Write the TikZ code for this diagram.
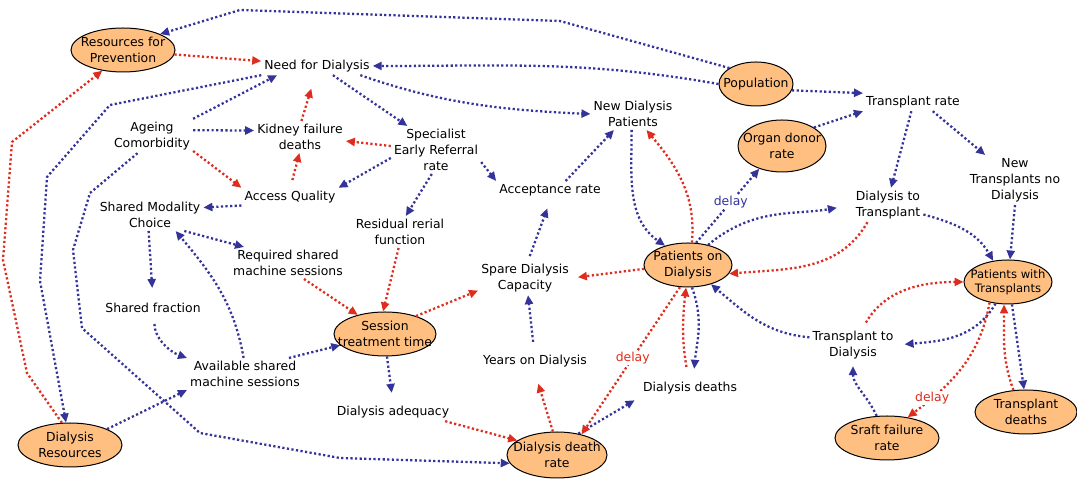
\documentclass[tikz,border=0pt]{standalone}
\usepackage{fontspec}
\setmainfont{DejaVu Sans}
\usepackage{tikz}
\usetikzlibrary{arrows.meta, shapes.geometric}

\definecolor{linkblue}{RGB}{51,51,153}
\definecolor{linkred}{RGB}{222,45,30}
\definecolor{stockfill}{RGB}{255,191,128}

\begin{document}
\begin{tikzpicture}[
    x=1pt, y=1pt,
    font=\fontsize{12.4}{16}\selectfont,
    stock/.style={ellipse, draw=black, line width=1pt, fill=stockfill, inner xsep=-20pt, inner ysep=-6pt, align=center, minimum width=100pt, minimum height=44pt},
    var/.style={align=center, inner sep=3pt, text=black},
    bluelink/.style={-{Triangle[length=9pt, width=8pt]}, draw=linkblue, line width=2.3pt, dash pattern=on 2.2pt off 2.4pt},
    redlink/.style={-{Triangle[length=9pt, width=8pt]}, draw=linkred, line width=2.3pt, dash pattern=on 2.2pt off 2.4pt},
    delaylbl/.style={fill=white, inner sep=1pt},
  ]
  \useasboundingbox (0,0) rectangle (1077,481);

  % Stocks
  \node[stock, minimum width=104pt] (prev) at (123,431) {Resources for\\Prevention};
  \node[stock, minimum width=74pt] (pop) at (756,397) {Population};
  \node[stock, minimum width=88pt, minimum height=52pt] (donor) at (782,335) {Organ donor\\rate};
  \node[stock, minimum width=88pt] (pod) at (688,216) {Patients on\\Dialysis};
  \node[stock, minimum width=88pt, font=\fontsize{11.6}{14}\selectfont] (pwt) at (1008,199) {Patients with\\Transplants};
  \node[stock, minimum width=102pt] (session) at (385,147) {Session\\treatment time};
  \node[stock, minimum width=102pt] (tdeaths) at (1026,69) {Transplant\\deaths};
  \node[stock, minimum width=104pt] (dres) at (70,36) {Dialysis\\Resources};
  \node[stock, minimum width=104pt] (graft) at (887,43) {Sraft failure\\rate};
  \node[stock, minimum width=100pt, minimum height=46pt] (ddrate) at (557,26) {Dialysis death\\rate};

  % Variables
  \node[var] (need) at (317,415) {Need for Dialysis};
  \node[var] (trate) at (913,379) {Transplant rate};
  \node[var] (newdp) at (633,367) {New Dialysis\\Patients};
  \node[var] (ageing) at (152,345) {Ageing\\Comorbidity};
  \node[var] (kfd) at (300,344) {Kidney failure\\deaths};
  \node[var] (spec) at (436,331) {Specialist\\Early Referral\\rate};
  \node[var] (newtx) at (1015,301) {New\\Transplants no\\Dialysis};
  \node[var] (d2t) at (888,276) {Dialysis to\\Transplant};
  \node[var] (accept) at (550,291) {Acceptance rate};
  \node[var] (access) at (290,284) {Access Quality};
  \node[var] (modality) at (150,266) {Shared Modality\\Choice};
  \node[var] (residual) at (400,249) {Residual rerial\\function};
  \node[var] (required) at (288,218) {Required shared\\machine sessions};
  \node[var] (spare) at (525,203) {Spare Dialysis\\Capacity};
  \node[var] (fraction) at (153,173) {Shared fraction};
  \node[var] (t2d) at (853,136) {Transplant to\\Dialysis};
  \node[var] (years) at (535,120) {Years on Dialysis};
  \node[var] (available) at (245,107) {Available shared\\machine sessions};
  \node[var] (ddeaths) at (690,93) {Dialysis deaths};
  \node[var] (adequacy) at (393,69) {Dialysis adequacy};

  % Blue links
  \draw[bluelink] (pop.north west) -- (560,460) -- (240,471) -- (prev.north east);
  \draw[bluelink] (pop.west) to[out=170, in=0] (need.east);
  \draw[bluelink] (pop.-10) -- (trate.170);
  \draw[bluelink] (donor.30) -- (trate.south west);
  \draw[bluelink] (need.-12) .. controls (440,378) and (500,371) .. (newdp.west);
  \draw[bluelink] (need.-30) -- (spec.140);
  \draw[bluelink] (need.south west) -- (110,376) -- (47,304) -- (40,200) -- (dres.100);
  \draw[bluelink] (ageing.north east) -- (need.193);
  \draw[bluelink] (ageing.8) -- (kfd.172);
  \draw[bluelink] (ageing.-130) -- (90,288) -- (73,231) -- (82,153) -- (200,48) -- (340,23) -- (ddrate.190);
  \draw[bluelink] (spec.190) -- (access.north east);
  \draw[bluelink] (spec.-100) -- (residual.70);
  \draw[bluelink] (spec.-15) -- (accept.north west);
  \draw[bluelink] (access.190) -- (modality.8);
  \draw[bluelink] (modality.-25) -- (required.160);
  \draw[bluelink, shorten >=12pt] (modality.-95) -- (fraction.north);
  \draw[bluelink] (available.95) to[out=100, in=-50] (modality.-32);
  \draw[bluelink, shorten <=8pt] (fraction.-80) to[out=-90, in=160] (available.north west);
  \draw[bluelink] (dres.north east) -- (available.south west);
  \draw[bluelink] (available.20) -- (session.194);
  \draw[bluelink, shorten >=10pt] (session.-85) -- (adequacy.north);
  \draw[bluelink, shorten <=10pt] (years.95) -- (spare.-80);
  \draw[bluelink, shorten <=5pt, shorten >=10pt] (spare.80) -- (accept.-85);
  \draw[bluelink] (accept.30) -- (newdp.-140);
  \draw[bluelink] (newdp.-95) to[out=-90, in=145] (pod.140);
  \draw[bluelink] (pod.70) -- node[delaylbl, text=linkblue, pos=0.55] {delay} (donor.225);
  \draw[bluelink, shorten >=16pt] (pod.45) to[out=40, in=190] (d2t.west);
  \draw[bluelink, shorten >=10pt] (pod.-80) to[out=-70, in=85] (ddeaths.70);
  \draw[bluelink] (t2d.170) to[out=175, in=-40] (pod.-40);
  \draw[bluelink, shorten >=6pt] (ddrate.45) -- (ddeaths.south west);
  \draw[bluelink] (trate.-100) -- (d2t.80);
  \draw[bluelink] (trate.-25) -- (newtx.140);
  \draw[bluelink] (d2t.-15) to[out=-15, in=120] (pwt.125);
  \draw[bluelink] (newtx.-90) -- (pwt.85);
  \draw[bluelink, shorten >=8pt] (pwt.-120) to[out=-120, in=5] (t2d.east);
  \draw[bluelink] (pwt.-80) -- (tdeaths.95);
  \draw[bluelink, shorten >=4pt] (graft.115) to[out=115, in=-90] (t2d.south);

  % Red links
  \draw[redlink] (prev.-5) -- (need.175);
  \draw[redlink] (dres.110) -- (27,108) -- (3,221) -- (12,339) -- (prev.225);
  \draw[redlink, shorten >=14pt] (kfd.85) -- (need.-100);
  \draw[redlink, shorten <=8pt] (access.88) -- (kfd.-92);
  \draw[redlink] (spec.175) -- (kfd.-5);
  \draw[redlink] (ageing.-20) -- (access.north west);
  \draw[redlink] (residual.-95) -- (session.95);
  \draw[redlink] (required.-45) -- (session.145);
  \draw[redlink] (session.30) -- (spare.-165);
  \draw[redlink, shorten >=6pt] (pod.185) -- (spare.east);
  \draw[redlink] (pod.80) to[out=85, in=-50] (newdp.-50);
  \draw[redlink] (d2t.-140) to[out=-120, in=5] (pod.-12);
  \draw[redlink] (pod.-110) -- node[delaylbl, text=linkred, pos=0.48] {delay} (ddrate.40);
  \draw[redlink, shorten <=12pt] (ddeaths.100) to[bend left=8] (pod.-95);
  \draw[redlink] (adequacy.-10) -- (ddrate.160);
  \draw[redlink, shorten >=14pt] (ddrate.100) -- (years.-95);
  \draw[redlink, shorten <=6pt] (t2d.60) to[out=60, in=180] (pwt.west);
  \draw[redlink] (pwt.-132) to[out=-100, in=37] node[delaylbl, text=linkred, pos=0.8] {delay} (graft.45);
  \draw[redlink] (tdeaths.120) to[out=110, in=-90] (pwt.-100);

\end{tikzpicture}
\end{document}
